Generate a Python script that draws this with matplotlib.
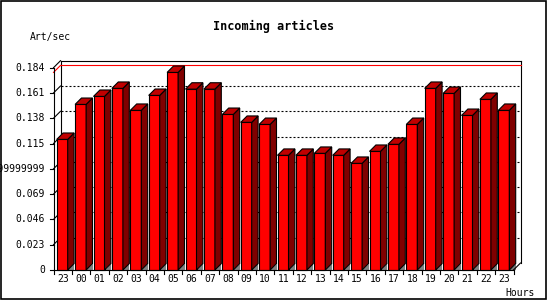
import matplotlib
matplotlib.use("Agg")
import matplotlib.pyplot as plt
from matplotlib.patches import Polygon, Rectangle
from matplotlib.lines import Line2D

plt.rcParams['lines.scale_dashes'] = False
FONT = 'DejaVu Sans Mono'

# ---- data ----
hours = ['23', '00', '01', '02', '03', '04', '05', '06', '07', '08', '09', '10', '11',
         '12', '13', '14', '15', '16', '17', '18', '19', '20', '21', '22', '23']
art_per_sec = [0.1188, 0.1506, 0.1579, 0.1652, 0.1452, 0.1588, 0.1797, 0.1645, 0.1645,
               0.1415, 0.1343, 0.1324, 0.1043, 0.1043, 0.1061, 0.1043, 0.0970, 0.1079,
               0.1143, 0.1324, 0.1652, 0.1606, 0.1406, 0.1552, 0.1452]
y_ticks = [0, 0.023, 0.046, 0.069, 0.092, 0.115, 0.138, 0.161, 0.184]
y_tick_labels = ['0', '0.023', '0.046', '0.069', '0.09199999999', '0.115', '0.138',
                 '0.161', '0.184']
title = 'Incoming articles'
y_label = 'Art/sec'
x_label = 'Hours'

W, H = 550, 300
fig = plt.figure(figsize=(W / 100, H / 100), dpi=100)
fig.patch.set_facecolor('white')

# front plot rectangle in pixels (y measured downward)
L, R, B, T = 53.5, 513.5, 270.0, 67.7
ax = fig.add_axes([L / W, (H - B) / H, (R - L) / W, (B - T) / H])
n = len(hours)
ymax = y_ticks[-1]
ax.set_xlim(0, n)
ax.set_ylim(0, ymax)
ax.axis('off')

sx = n / (R - L)          # data units per pixel (x)
sy = ymax / (B - T)       # data units per pixel (y)
bdx, bdy = 7 * sx, 7 * sy      # box depth
dx, dy = 6.4 * sx, 6.4 * sy    # bar depth

def line(xs, ys, **kw):
    kw.setdefault('color', 'black')
    kw.setdefault('lw', 0.8)
    ax.add_line(Line2D(xs, ys, clip_on=False, **kw))

# back wall gridlines
for v in y_ticks[1:-1]:
    line([0, bdx], [v, v + bdy], zorder=1)
    line([bdx, n + bdx], [v + bdy, v + bdy], zorder=1, linestyle=(0, (1.44, 1.44)))

# max line (red)
vmax = max(art_per_sec)
line([0, bdx], [vmax, vmax + bdy], color='red', zorder=1.5)
line([bdx, n + bdx], [vmax + bdy, vmax + bdy], color='red', zorder=1.5)

# box frame
line([bdx, bdx], [bdy, ymax + bdy], zorder=1)
line([bdx, n + bdx], [ymax + bdy, ymax + bdy], zorder=1)
line([n + bdx, n + bdx], [bdy, ymax + bdy], zorder=1)
line([n, n + bdx], [0, bdy], zorder=6)
line([0, 0], [0, ymax], zorder=6)
line([0, bdx], [ymax, ymax + bdy], zorder=6)
line([0, n], [0, 0], zorder=6)

# bars
off = 3.2 * sx
bw = 11.0 * sx
lefts = [i + off for i in range(n)]
ax.bar(lefts, art_per_sec, width=bw, align='edge', color='#ff0000',
       edgecolor='black', linewidth=0.8, zorder=3, clip_on=False)
for x0, v in zip(lefts, art_per_sec):
    x1 = x0 + bw
    ax.add_patch(Polygon([(x1, 0), (x1 + dx, 0), (x1 + dx, dy)], closed=True,
                         facecolor='#808080', edgecolor='none', zorder=2.5, clip_on=False))
    ax.add_patch(Polygon([(x1, 0), (x1 + dx, dy), (x1 + dx, v + dy), (x1, v)], closed=True,
                         facecolor='#800000', edgecolor='black', lw=0.8, zorder=3,
                         clip_on=False))
    ax.add_patch(Polygon([(x0, v), (x1, v), (x1 + dx, v + dy), (x0 + dx, v + dy)],
                         closed=True, facecolor='#c00000', edgecolor='black', lw=0.8,
                         zorder=3, clip_on=False))

# y ticks and labels
for v, lab in zip(y_ticks, y_tick_labels):
    line([-3.5 * sx, 0], [v, v], zorder=6)
    ax.text(-8.5 * sx, v, lab, ha='right', va='center', fontsize=7, family=FONT,
            clip_on=False)

# x ticks and labels
for i in range(n + 1):
    line([i, i], [0, -4 * sy], zorder=6)
for i, lab in enumerate(hours):
    ax.text(i + 0.5, -9.5 * sy, lab, ha='center', va='center', fontsize=7, family=FONT,
            clip_on=False)

# texts
fig.text(273.5 / W, 1 - 26.7 / H, title, ha='center', va='center', fontsize=8.5,
         fontweight='bold', family=FONT)
fig.text(30 / W, 1 - 37 / H, y_label, ha='left', va='center', fontsize=7, family=FONT)
fig.text(505 / W, 1 - 292.5 / H, x_label, ha='left', va='center', fontsize=7, family=FONT)

# outer border
fig.patches.append(Rectangle((0.8 / W, 1.0 / H), 545.5 / W, 298.0 / H,
                             transform=fig.transFigure, fill=False, edgecolor='black',
                             lw=1.2, zorder=10))

fig.savefig('out.png', dpi=100)
